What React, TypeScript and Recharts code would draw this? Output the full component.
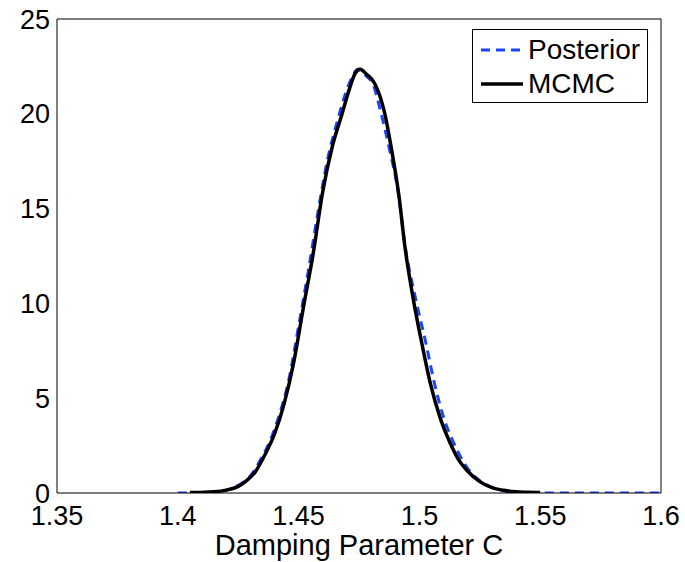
import React from 'react';
import { LineChart, Line, XAxis, YAxis, Legend } from 'recharts';

// Posterior density (blue dashed)
const posteriorX = [
  1.4, 1.405, 1.41, 1.415, 1.42, 1.425, 1.43, 1.434, 1.438, 1.442, 1.446, 1.45, 1.454, 1.458,
  1.462, 1.466, 1.4695, 1.472, 1.4745, 1.478, 1.481, 1.484, 1.4875, 1.4913, 1.494, 1.4985,
  1.5027, 1.5062, 1.51, 1.514, 1.5205, 1.525, 1.53, 1.535, 1.54, 1.545, 1.55, 1.56, 1.57, 1.58,
  1.59, 1.6,
];
const posteriorY = [
  0, 0, 0.01, 0.05, 0.15, 0.4, 0.9, 1.7, 2.7, 4.1, 6.0, 8.8, 11.7, 14.8,
  17.6, 19.6, 21.1, 21.9, 22.35, 22.0, 21.5, 20.1, 18.2, 15.8, 13.1, 10.2,
  7.9, 5.8, 4.0, 2.7, 1.2, 0.65, 0.3, 0.12, 0.05, 0.02, 0, 0, 0, 0,
  0, 0,
];

// MCMC histogram density (black solid)
const mcmcX = [
  1.405, 1.41, 1.415, 1.42, 1.425, 1.428, 1.432, 1.436, 1.44, 1.444, 1.448, 1.452, 1.456, 1.46,
  1.464, 1.468, 1.471, 1.4735, 1.4755, 1.478, 1.4815, 1.4855, 1.4885, 1.4915, 1.494, 1.4975,
  1.501, 1.5045, 1.5085, 1.5125, 1.516, 1.52, 1.525, 1.53, 1.535, 1.54, 1.545, 1.55,
];
const mcmcY = [
  0.02, 0.03, 0.06, 0.15, 0.35, 0.6, 1.1, 2.0, 3.1, 4.7, 6.9, 9.8, 12.6, 15.9,
  18.3, 20.0, 21.3, 22.15, 22.35, 22.1, 21.6, 20.1, 18.1, 15.7, 13.0, 10.2,
  7.9, 5.8, 4.0, 2.7, 1.8, 1.15, 0.6, 0.28, 0.14, 0.07, 0.04, 0.03,
];

const seriesNames = ['Posterior', 'MCMC'];
const xTicks = [1.35, 1.4, 1.45, 1.5, 1.55, 1.6];
const yTicks = [0, 5, 10, 15, 20, 25];

const posteriorData = posteriorX.map((x, i) => ({ x, y: posteriorY[i] }));
const mcmcData = mcmcX.map((x, i) => ({ x, y: mcmcY[i] }));

const FONT = '"Liberation Sans", Arial, Helvetica, sans-serif';
const BLUE = '#1a45ff';

// MATLAB-like boxed legend, kept in plot order (recharts sorts by name)
// eslint-disable-next-line @typescript-eslint/no-explicit-any
function BoxLegend(props: any) {
  const payload = [...(props.payload || [])].sort(
    // eslint-disable-next-line @typescript-eslint/no-explicit-any
    (a: any, b: any) => seriesNames.indexOf(a.value) - seriesNames.indexOf(b.value)
  );
  return (
    <div
      style={{
        position: 'relative',
        width: 176,
        height: 74,
        border: '1px solid #000',
        background: '#fff',
        boxSizing: 'border-box',
        fontFamily: FONT,
        fontSize: 28,
        color: '#000',
      }}
    >
      {/* eslint-disable-next-line @typescript-eslint/no-explicit-any */}
      {payload.map((p: any, i: number) => (
        <div
          key={p.value}
          style={{ position: 'absolute', left: 0, top: 3 + i * 34, height: 34, width: '100%' }}
        >
          <svg width={50} height={34} style={{ position: 'absolute', left: 0, top: 0 }}>
            <line
              x1={8}
              x2={50}
              y1={17}
              y2={17}
              stroke={p.color}
              strokeWidth={p.value === 'Posterior' ? 3 : 3.5}
              strokeDasharray={p.value === 'Posterior' ? '9 6' : undefined}
            />
          </svg>
          <span style={{ position: 'absolute', left: 55, top: 0, lineHeight: '34px' }}>{p.value}</span>
        </div>
      ))}
    </div>
  );
}

export default function App() {
  return (
    <div style={{ position: 'absolute', left: 0, top: 0, background: '#fff' }}>
      <LineChart
        width={685}
        height={562}
        margin={{ top: 19, right: 24, left: 0, bottom: 0 }}
        style={{ fontFamily: FONT }}
      >
        {/* box + inward tick marks on all four sides (mirrored 1px axes) */}
        <XAxis
          xAxisId="bottomTicks"
          dataKey="x"
          type="number"
          domain={[1.35, 1.6]}
          ticks={xTicks}
          allowDataOverflow
          height={1}
          mirror
          tickSize={6}
          stroke="#000"
          tick={false}
        />
        <XAxis
          xAxisId="bottom"
          dataKey="x"
          type="number"
          domain={[1.35, 1.6]}
          ticks={xTicks}
          allowDataOverflow
          height={69}
          tickLine={false}
          tickSize={0}
          tickMargin={13}
          axisLine={false}
          tick={{ fill: '#000', fontSize: 27 }}
          tickFormatter={(v: number) => String(v)}
          label={{
            value: 'Damping Parameter C',
            position: 'insideBottom',
            offset: 7,
            fill: '#000',
            fontSize: 29,
          }}
        />
        <XAxis
          xAxisId="top"
          orientation="top"
          dataKey="x"
          type="number"
          domain={[1.35, 1.6]}
          ticks={xTicks}
          allowDataOverflow
          height={1}
          mirror
          tickSize={6}
          stroke="#000"
          tick={false}
        />
        <YAxis
          yAxisId="leftTicks"
          type="number"
          domain={[0, 25]}
          ticks={yTicks}
          allowDataOverflow
          width={1}
          mirror
          tickSize={6}
          stroke="#000"
          tick={false}
        />
        <YAxis
          yAxisId="left"
          type="number"
          domain={[0, 25]}
          ticks={yTicks}
          allowDataOverflow
          width={57}
          tickLine={false}
          tickSize={0}
          tickMargin={7}
          axisLine={false}
          tick={{ fill: '#000', fontSize: 27 }}
        />
        <YAxis
          yAxisId="right"
          orientation="right"
          type="number"
          domain={[0, 25]}
          ticks={yTicks}
          allowDataOverflow
          width={1}
          mirror
          tickSize={6}
          stroke="#000"
          tick={false}
        />
        <Legend
          layout="horizontal"
          verticalAlign="middle"
          align="center"
          content={<BoxLegend />}
          wrapperStyle={{ position: 'absolute', left: 472, top: 29, width: 176, height: 74 }}
        />
        <Line
          xAxisId="bottom"
          yAxisId="left"
          data={posteriorData}
          dataKey="y"
          name="Posterior"
          type="monotone"
          stroke={BLUE}
          strokeWidth={3}
          strokeDasharray="9 6"
          dot={false}
          activeDot={false}
          isAnimationActive={false}
        />
        <Line
          xAxisId="bottom"
          yAxisId="left"
          data={mcmcData}
          dataKey="y"
          name="MCMC"
          type="monotone"
          stroke="#000"
          strokeWidth={3.5}
          dot={false}
          activeDot={false}
          isAnimationActive={false}
        />
      </LineChart>
    </div>
  );
}
